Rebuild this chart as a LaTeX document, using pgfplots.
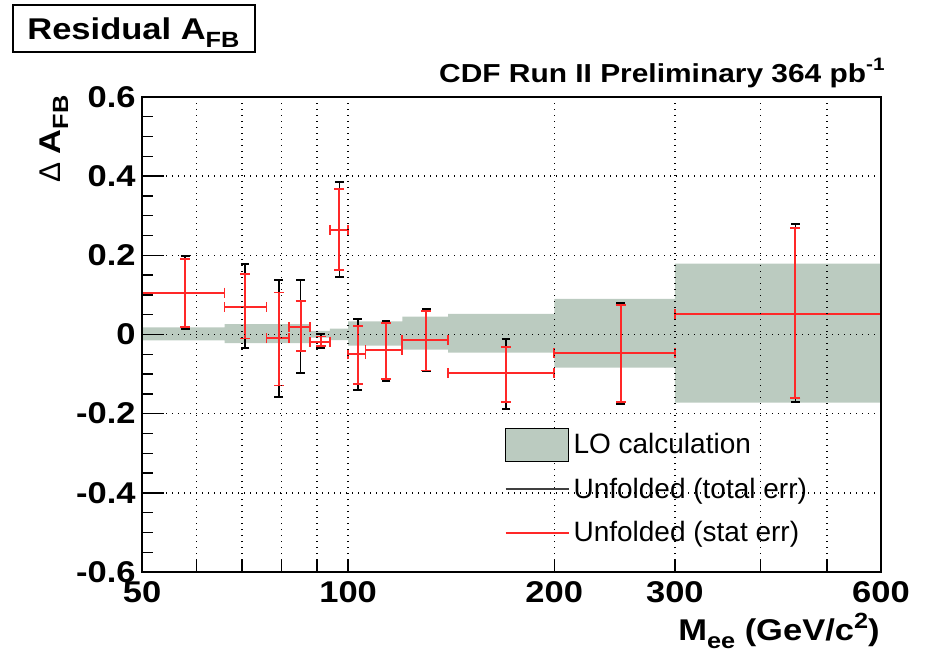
\documentclass[border=0pt]{standalone}
\usepackage{pgfplots}
\usepackage{pgfplotstable}
\usepackage{fontspec}
\pgfplotsset{compat=1.18}
\setmainfont{Liberation Sans}
\newfontfamily\rb{Liberation Sans}[FakeStretch=1.15]
\definecolor{bandcol}{RGB}{187,203,192}
\definecolor{rootred}{RGB}{255,40,40}

\pgfplotstableread{
x     xm    xp    y       sm      sp      tm      tp
57.8  17.8  8.2   0.106   0.088   0.085   0.092   0.093
70.7  4.7   5.3   0.070   0.080   0.082   0.105   0.107
79.2  3.2   2.8   -0.010  0.119   0.116   0.149   0.148
85.2  3.2   2.8   0.019   0.061   0.066   0.116   0.119
91.2  3.2   2.8   -0.018  0.012   0.013   0.016   0.018
97.1  3.1   2.9   0.265   0.102   0.103   0.120   0.120
103.3 3.3   2.7   -0.050  0.075   0.071   0.089   0.088
113.6 7.6   6.4   -0.040  0.072   0.070   0.077   0.075
130.0 10.0  10.0  -0.0145 0.0765  0.0745  0.0785  0.0785
170.0 30.0  30.0  -0.0975 0.0725  0.0665  0.0895  0.0855
250.0 50.0  50.0  -0.046  0.124   0.120   0.129   0.126
450.0 150.0 150.0 0.052   0.212   0.217   0.223   0.227
}\pts

\begin{document}
\begin{tikzpicture}
\path[use as bounding box] (-71pt,-43pt) rectangle (391.5pt,286pt);
\begin{axis}[
  at={(0,0)}, anchor=south west,
  width=369.5pt, height=237.5pt, scale only axis,
  xmode=log, xmin=50, xmax=600, ymin=-0.6, ymax=0.6,
  xtick={50,60,70,80,90,100,200,300,400,500,600},
  xticklabels={50,{},{},{},{},100,200,300,{},{},600},
  minor xtick={},
  ytick={-0.6,-0.4,-0.2,0,0.2,0.4,0.6},
  yticklabels={-0.6,-0.4,-0.2,0,0.2,0.4,0.6},
  minor y tick num=3,
  tick pos=left, tick align=inside,
  xmajorgrids, ymajorgrids,
  major grid style={black, line width=0.7pt, dash pattern=on 0.7pt off 2.3pt},
  axis on top,
  axis line style={line width=0.8pt},
  every tick/.style={black, line width=0.7pt},
  major tick length=11pt, minor tick length=5.5pt,
  xtick style={/pgfplots/major tick length=6pt},
  ticklabel style={font=\rb\bfseries\fontsize{15}{15}\selectfont},
  yticklabel style={inner sep=0pt, xshift=-3pt},
  xticklabel style={inner sep=0pt, yshift=-4.5pt},
  legend style={at={(0.49,0.305)}, anchor=north west, draw=none, fill=none,
    inner sep=0pt, row sep=6pt, font=\fontsize{14}{14}\selectfont,
    nodes={inner sep=2pt}},
  legend cell align=left,
]
\addlegendimage{legend image code/.code={\draw[fill=bandcol, draw=black, line width=0.6pt] (0pt,-8.25pt) rectangle (31.5pt,8.25pt);}}
\addlegendentry{LO calculation}
\addlegendimage{legend image code/.code={\draw[black!75, line width=1pt] (0pt,0pt) -- (31.5pt,0pt);}}
\addlegendentry{Unfolded (total err)}
\addlegendimage{legend image code/.code={\draw[rootred, line width=1pt] (0pt,0pt) -- (31.5pt,0pt);}}
\addlegendentry{Unfolded (stat err)}

% LO calculation band
\addplot[fill=bandcol, draw=none, forget plot] coordinates {
 (50,0.018) (66,0.018) (66,0.026) (88,0.026) (88,0.009) (94,0.009)
 (94,0.015) (100,0.015) (100,0.033) (120,0.033) (120,0.045) (140,0.045)
 (140,0.052) (200,0.052) (200,0.090) (300,0.090) (300,0.179) (600,0.179)
 (600,-0.172) (300,-0.172) (300,-0.084) (200,-0.084) (200,-0.046) (140,-0.046)
 (140,-0.038) (120,-0.038) (120,-0.028) (100,-0.028) (100,-0.014) (94,-0.014)
 (94,-0.008) (88,-0.008) (88,-0.022) (66,-0.022) (66,-0.015) (50,-0.015)
} -- cycle;

% total errors
\addplot[draw=none, mark=none, forget plot,
  error bars/.cd, y dir=both, y explicit,
  error bar style={draw=black, line width=0.8pt},
  error mark options={rotate=90, draw=black, line width=1pt, mark size=2.2pt}]
  table[x=x, y=y, y error plus=tp, y error minus=tm]{\pts};
% stat errors
\addplot[draw=none, mark=none, forget plot,
  error bars/.cd, x dir=both, x explicit, y dir=both, y explicit,
  error bar style={draw=rootred, line width=1pt},
  error mark options={rotate=90, draw=rootred, line width=0.9pt, mark size=2.5pt}]
  table[x=x, y=y, x error plus=xp, x error minus=xm, y error plus=sp, y error minus=sm]{\pts};
\end{axis}

\draw[line width=0.6pt] (-64.5pt,260pt) rectangle (56.5pt,283.5pt);
\node[anchor=base west, inner sep=0pt] at (-57.5pt,266pt)
  {\rb\bfseries\fontsize{15}{15}\selectfont Residual A\raisebox{-4pt}{\fontsize{11}{11}\selectfont FB}};
\node[anchor=base east, inner sep=0pt] at (371.5pt,244.5pt)
  {\rb\bfseries\fontsize{13}{13}\selectfont CDF Run II Preliminary 364 pb\raisebox{6pt}{\fontsize{9}{9}\selectfont -1}};
\node[rotate=90, anchor=base east, inner sep=0pt] at (-41pt,238.5pt)
  {\fontsize{15}{15}\selectfont Δ\ {\rb\bfseries A\raisebox{-4pt}{\fontsize{11}{11}\selectfont FB}}};
\node[anchor=base east, inner sep=0pt] at (369pt,-34pt)
  {\rb\bfseries\fontsize{15}{15}\selectfont M\raisebox{-4pt}{\fontsize{11}{11}\selectfont ee} (GeV/c\raisebox{6pt}{\fontsize{11}{11}\selectfont 2})};
\end{tikzpicture}
\end{document}
